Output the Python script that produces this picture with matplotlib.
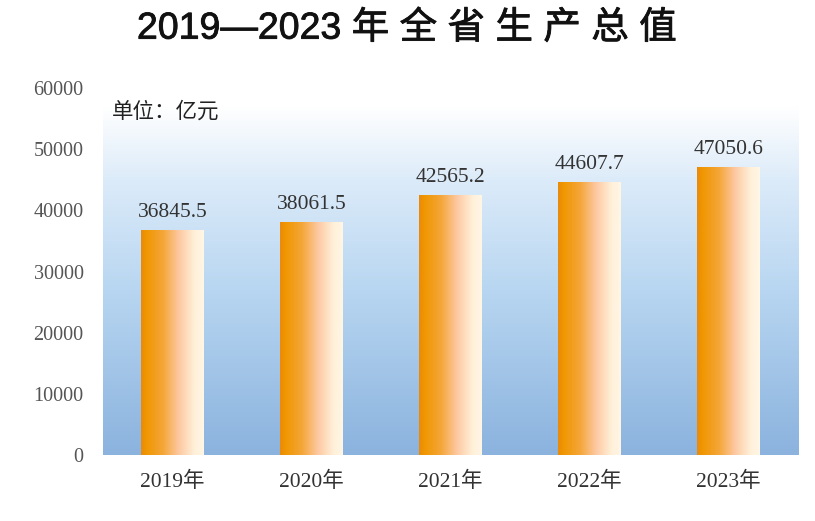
import numpy as np
import matplotlib.pyplot as plt
import matplotlib.patheffects as pe
from matplotlib.colors import LinearSegmentedColormap

plt.rcParams['font.family'] = ['Liberation Serif', 'Noto Sans CJK SC']

years = ['2019年', '2020年', '2021年', '2022年', '2023年']
values = [36845.5, 38061.5, 42565.2, 44607.7, 47050.6]
yticks = [0, 10000, 20000, 30000, 40000, 50000, 60000]
title = '2019—2023 年 全 省 生 产 总 值'
unit = '单位：亿元'

fig = plt.figure(figsize=(8.15, 5.21), dpi=100)
ax = fig.add_axes([0.1264, 0.1267, 0.853, 0.704])

x = np.arange(len(years))
ax.set_xlim(-0.5, len(years) - 0.5)
ax.set_ylim(0, 60000)

# background: white at the top, light blue at the bottom
bg_cmap = LinearSegmentedColormap.from_list(
    'bg', [(0, '#8bb3de'), (0.45, '#b8d6f1'), (0.75, '#dcebf9'), (0.95, '#ffffff'), (1, '#ffffff')])
grad = np.linspace(0, 1, 256).reshape(-1, 1)
ax.imshow(grad, cmap=bg_cmap, origin='lower', aspect='auto',
          extent=[-0.5, len(years) - 0.5, 0, 60000], zorder=0)

# bars with a left-to-right orange to cream gradient
bar_cmap = LinearSegmentedColormap.from_list(
    'bar', [(0, '#ea8a0c'), (0.08, '#f09600'), (0.35, '#f4a638'),
            (0.6, '#fdc8a0'), (0.85, '#fff0d8'), (1, '#fff6e6')])
bars = ax.bar(x, values, width=0.45, color='none', edgecolor='none', zorder=2)
hgrad = np.linspace(0, 1, 256).reshape(1, -1)
for b in bars:
    x0, y0 = b.get_x(), b.get_y()
    im = ax.imshow(hgrad, cmap=bar_cmap, aspect='auto', zorder=2,
                   extent=[x0, x0 + b.get_width(), y0, y0 + b.get_height()])
    im.set_clip_path(b)

for xi, v in zip(x, values):
    ax.text(xi, v + 1300, f'{v:.1f}', ha='center', va='bottom',
            fontsize=15.5, color='#333333')

ax.set_xticks(x)
ax.set_xticklabels(years, fontsize=15.5, color='#333333')
ax.set_yticks(yticks)
ax.set_yticklabels([str(t) for t in yticks], fontsize=14.5, color='#555555')
ax.tick_params(length=0, axis='x', pad=12)
ax.tick_params(length=0, axis='y', pad=14)
for s in ax.spines.values():
    s.set_visible(False)

ax.text(0.013, 0.935, unit, transform=ax.transAxes, fontsize=15.5,
        family='Noto Sans CJK SC', color='#222222', va='center')

fig.text(0.499, 0.945, title, ha='center', va='center', fontsize=27,
         family=['Liberation Sans', 'Noto Sans CJK SC'], color='#111111',
         path_effects=[pe.withStroke(linewidth=0.6, foreground='#111111')])

fig.savefig('out.png', dpi=100)
